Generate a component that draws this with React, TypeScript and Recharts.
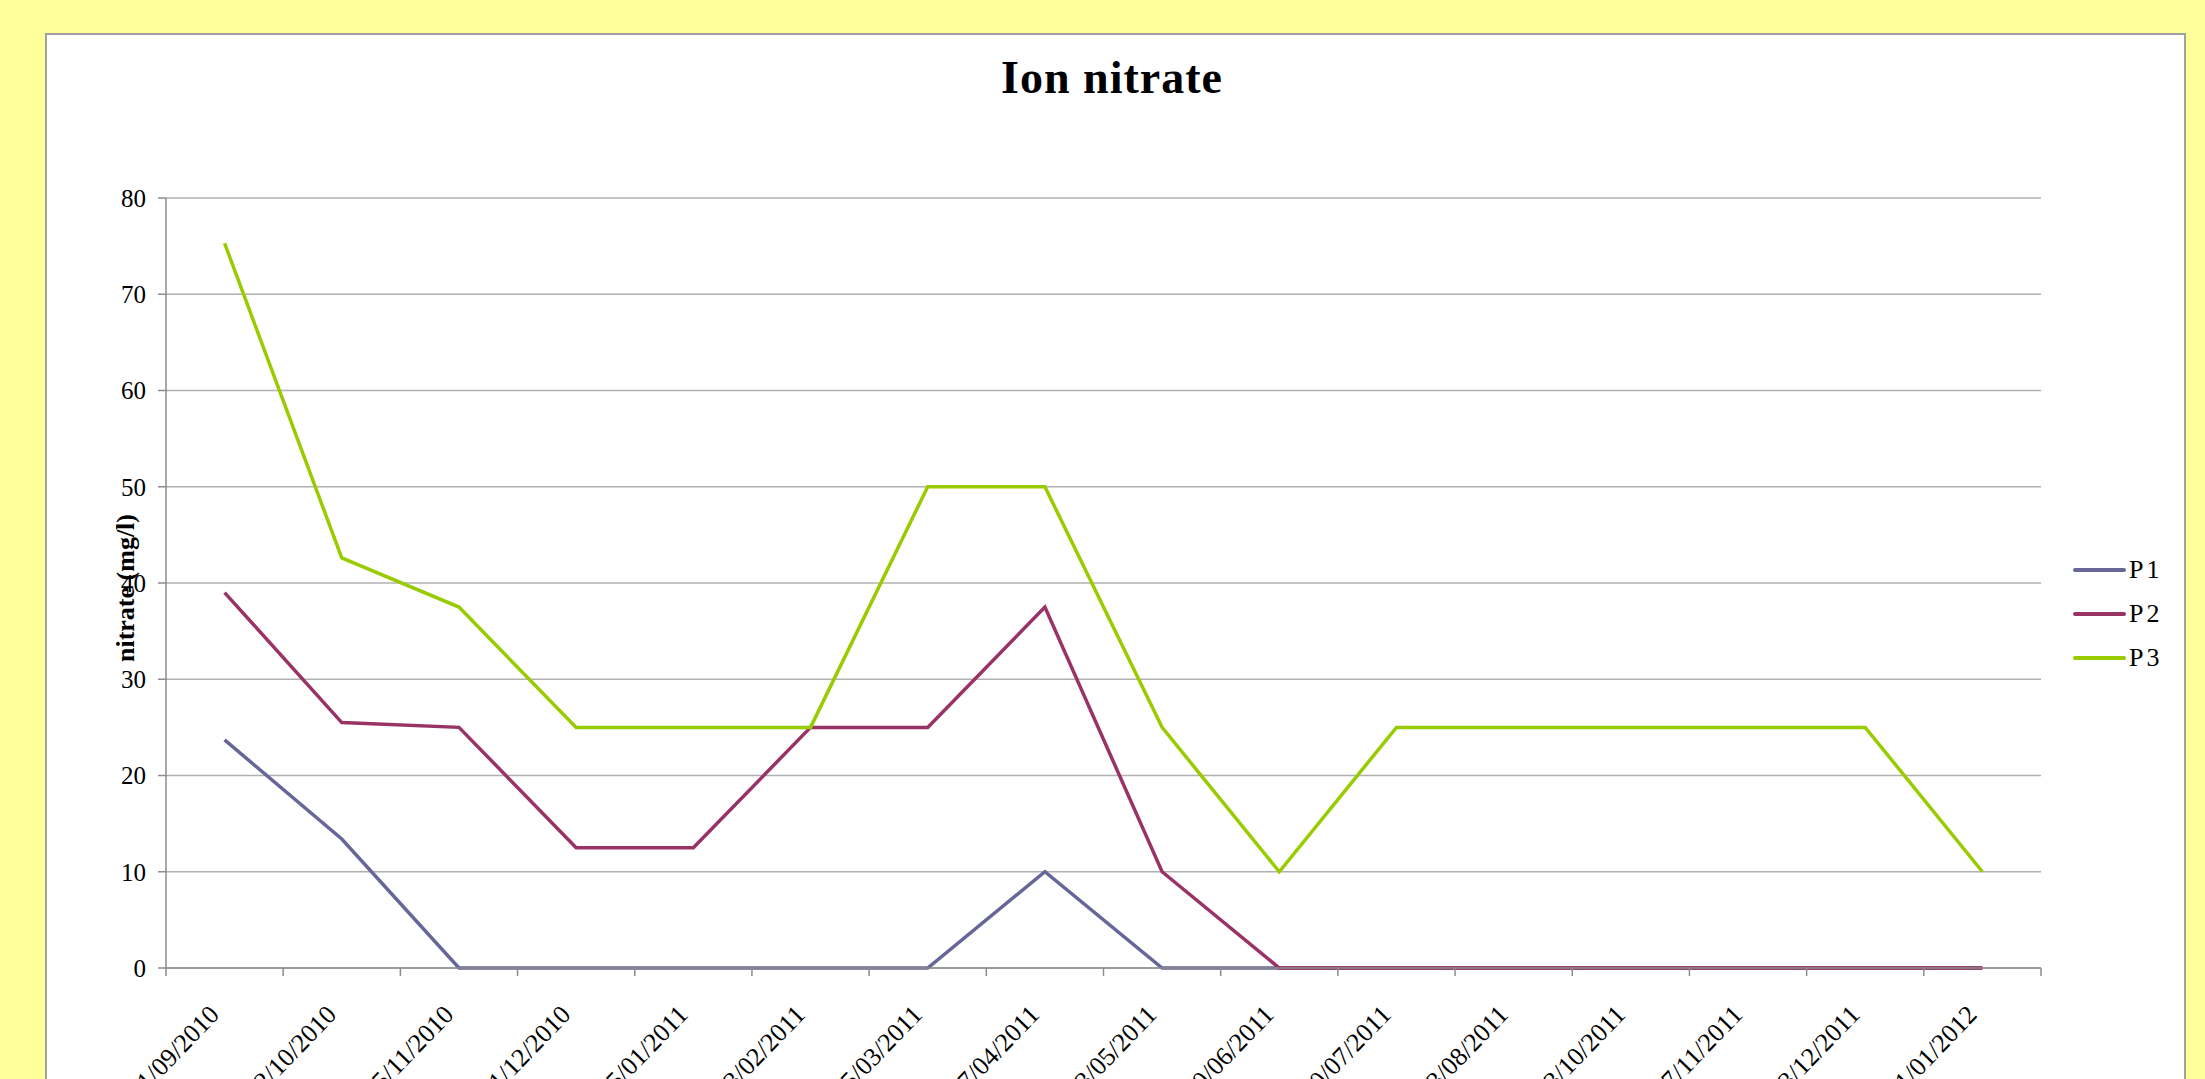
import { LineChart, Line, XAxis, YAxis, CartesianGrid } from 'recharts';

const dates = [
  '21/09/2010', '22/10/2010', '25/11/2010', '21/12/2010', '25/01/2011', '23/02/2011',
  '25/03/2011', '27/04/2011', '23/05/2011', '20/06/2011', '20/07/2011', '23/08/2011',
  '23/10/2011', '27/11/2011', '23/12/2011', '21/01/2012',
];
const p1 = [23.7, 13.4, 0, 0, 0, 0, 0, 10, 0, 0, 0, 0, 0, 0, 0, 0];
const p2 = [39, 25.5, 25, 12.5, 12.5, 25, 25, 37.5, 10, 0, 0, 0, 0, 0, 0, 0];
const p3 = [75.3, 42.6, 37.5, 25, 25, 25, 50, 50, 25, 10, 25, 25, 25, 25, 25, 10];
const yTicks = [0, 10, 20, 30, 40, 50, 60, 70, 80];

const series = [
  { key: 'P1', color: '#666699' },
  { key: 'P2', color: '#993366' },
  { key: 'P3', color: '#99cc00' },
];

const data = dates.map((d, i) => ({ date: d, P1: p1[i], P2: p2[i], P3: p3[i] }));

const W = 2205;
const H = 1079;
const PLOT_LEFT = 166;
const PLOT_RIGHT = 2041;
const PLOT_TOP = 198;
const PLOT_BOTTOM = 968;
const BAND = (PLOT_RIGHT - PLOT_LEFT) / dates.length;
const FONT = '"Liberation Serif", "Times New Roman", serif';
const AXIS_GRAY = '#8c8c8c';

function XTick(props: any) {
  const { x, y, payload, index } = props;
  const lx = x - 4;
  const ly = y + 48;
  return (
    <g>
      <line x1={x - BAND / 2} x2={x - BAND / 2} y1={y} y2={y + 8} stroke={AXIS_GRAY} strokeWidth={1.5} />
      {index === dates.length - 1 && (
        <line x1={x + BAND / 2} x2={x + BAND / 2} y1={y} y2={y + 8} stroke={AXIS_GRAY} strokeWidth={1.5} />
      )}
      <text
        x={lx}
        y={ly}
        transform={`rotate(-46, ${lx}, ${ly})`}
        textAnchor="end"
        fontFamily={FONT}
        fontSize={26}
        fill="#000"
      >
        {payload.value}
      </text>
    </g>
  );
}

export default function App() {
  return (
    <div style={{ position: 'relative', width: W, height: H, overflow: 'hidden', background: '#ffff99' }}>
      <style>{'body{margin:0}'}</style>

      {/* white chart frame */}
      <div
        style={{
          position: 'absolute',
          left: 45,
          top: 33,
          width: 2186 - 45,
          height: H,
          background: '#fff',
          border: '2px solid #a0a0a0',
          boxSizing: 'border-box',
        }}
      />

      <div style={{ position: 'absolute', left: 0, top: 0 }}>
        <LineChart
          width={W}
          height={H}
          data={data}
          margin={{ top: PLOT_TOP, right: W - PLOT_RIGHT, bottom: 0, left: PLOT_LEFT - 60 }}
        >
          <CartesianGrid vertical={false} stroke="#b0b0b0" strokeWidth={1.5} />
          <XAxis
            dataKey="date"
            height={H - PLOT_BOTTOM}
            interval={0}
            padding={{ left: BAND / 2, right: BAND / 2 }}
            tickLine={false}
            tickSize={0}
            tickMargin={0}
            axisLine={{ stroke: AXIS_GRAY, strokeWidth: 1.5 }}
            tick={<XTick />}
          />
          <YAxis
            width={60}
            domain={[0, 80]}
            ticks={yTicks}
            interval={0}
            tickSize={8}
            tickMargin={12}
            axisLine={{ stroke: AXIS_GRAY, strokeWidth: 1.5 }}
            tickLine={{ stroke: AXIS_GRAY, strokeWidth: 1.5 }}
            tick={{ fontFamily: FONT, fontSize: 25, fill: '#000' }}
          />
          {series.map((s) => (
            <Line
              key={s.key}
              type="linear"
              dataKey={s.key}
              stroke={s.color}
              strokeWidth={3.5}
              dot={false}
              activeDot={false}
              isAnimationActive={false}
            />
          ))}

          {/* title */}
          <text
            x={1112}
            y={93}
            textAnchor="middle"
            fontFamily={FONT}
            fontWeight="bold"
            fontSize={46}
            letterSpacing={1}
            fill="#000"
          >
            Ion nitrate
          </text>

          {/* y axis title */}
          <text
            x={125}
            y={588}
            transform="rotate(-90, 125, 588)"
            textAnchor="middle"
            dominantBaseline="central"
            fontFamily={FONT}
            fontWeight="bold"
            fontSize={26}
            fill="#000"
          >
            nitrate (mg/l)
          </text>
        </LineChart>
      </div>

      {/* legend */}
      <div style={{ position: 'absolute', left: 2073, top: 548, fontFamily: FONT, fontSize: 26 }}>
        {series.map((s) => (
          <div key={s.key} style={{ display: 'flex', alignItems: 'center', height: 44 }}>
            <span style={{ display: 'inline-block', width: 53, height: 4, background: s.color, borderRadius: 2 }} />
            <span style={{ marginLeft: 3, letterSpacing: 3 }}>{s.key}</span>
          </div>
        ))}
      </div>
    </div>
  );
}
